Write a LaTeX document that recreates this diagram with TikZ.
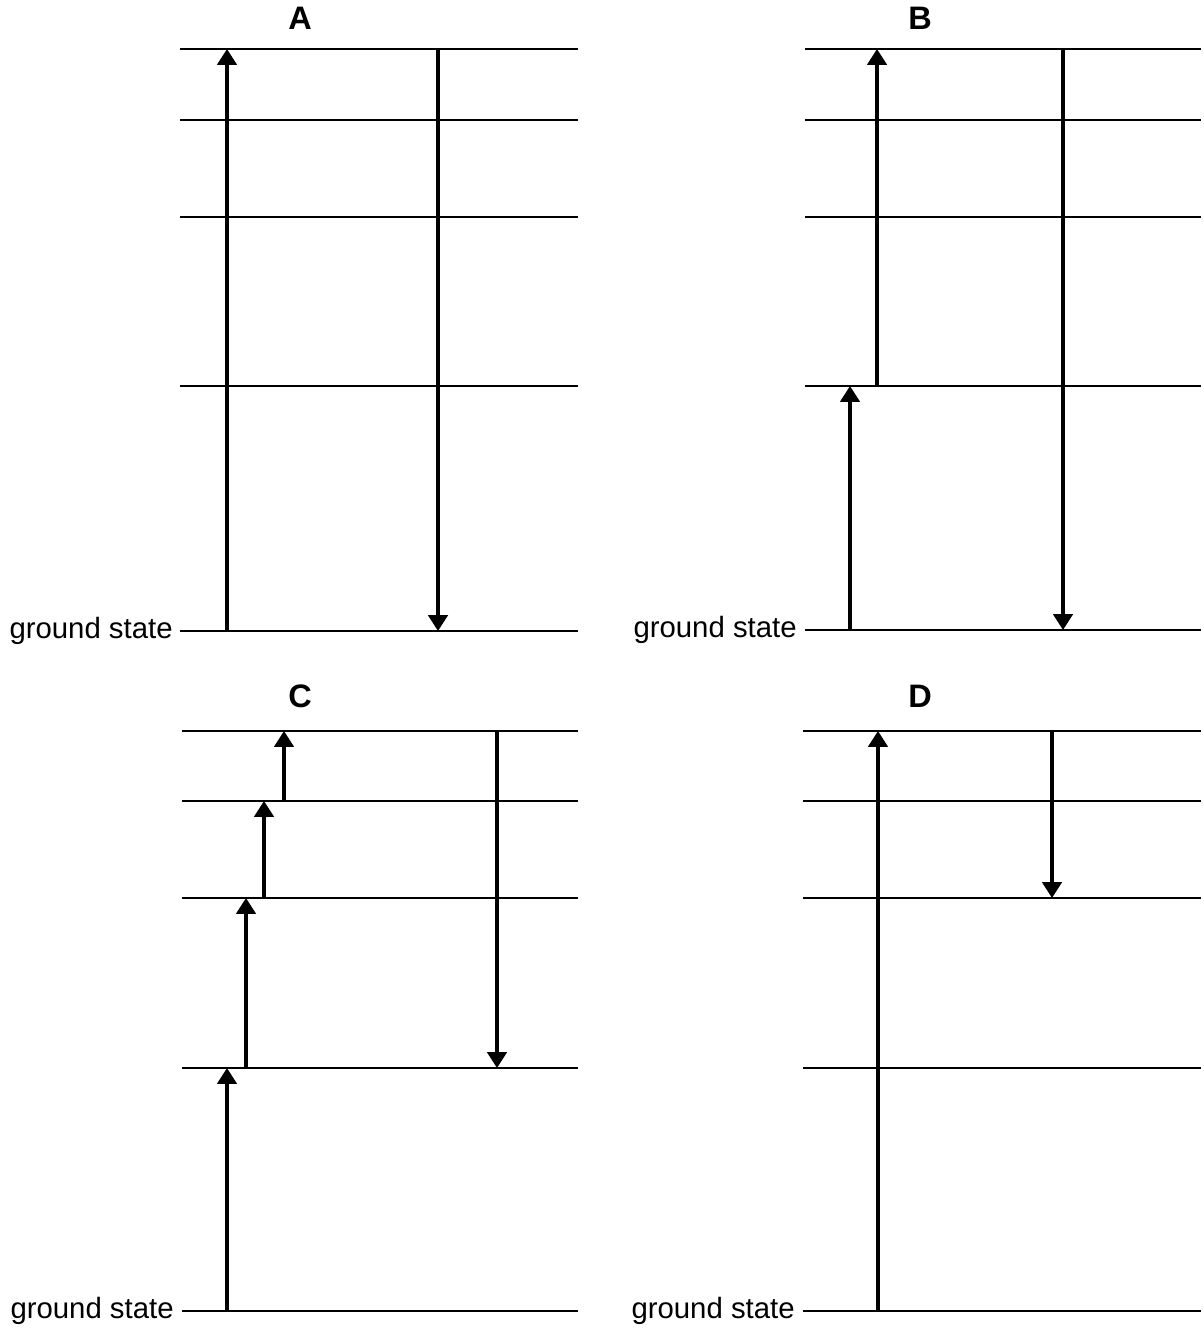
\documentclass[tikz,border=0pt]{standalone}
\usepackage{fontspec}
\setmainfont{Liberation Sans}
\usetikzlibrary{arrows.meta}
\begin{document}
\begin{tikzpicture}[x=0.02cm,y=-0.02cm,
  level/.style={line width=1.1pt},
  trans/.style={line width=1.8pt,-{Triangle[width=11pt,length=9pt]}},
  gs/.style={anchor=base east,inner sep=0pt,font=\fontsize{16.7}{18}\selectfont},
  plabel/.style={font=\fontsize{18.5}{20}\selectfont\bfseries}]
\useasboundingbox (0,0) rectangle (1203,1328);
% ---------- Panel A ----------
\node[plabel] (labA) at (300,18) {A};
\foreach \n/\y in {1/49,2/120,3/217,4/386,5/631}{
  \coordinate (AL\n) at (180,\y); \coordinate (AR\n) at (578,\y);
  \draw[level] (AL\n) -- (AR\n);}
\node[gs] (gsA) at (173,638) {ground state};
\coordinate (Aup0) at (227,631); \coordinate (Aup1) at (227,49);
\coordinate (Adn0) at (438,49); \coordinate (Adn1) at (438,631);
\draw[trans] (Aup0) -- (Aup1);
\draw[trans] (Adn0) -- (Adn1);
% ---------- Panel B ----------
\node[plabel] (labB) at (920,18) {B};
\foreach \n/\y in {1/49,2/120,3/217,4/386,5/630}{
  \coordinate (BL\n) at (805,\y); \coordinate (BR\n) at (1201,\y);
  \draw[level] (BL\n) -- (BR\n);}
\node[gs] (gsB) at (797,637) {ground state};
\coordinate (Bu0) at (850,630); \coordinate (Bu1) at (850,386);
\coordinate (Bv0) at (877,386); \coordinate (Bv1) at (877,49);
\coordinate (Bd0) at (1063,49); \coordinate (Bd1) at (1063,630);
\draw[trans] (Bu0) -- (Bu1);
\draw[trans] (Bv0) -- (Bv1);
\draw[trans] (Bd0) -- (Bd1);
% ---------- Panel C ----------
\node[plabel] (labC) at (300,696) {C};
\foreach \n/\y in {1/731,2/801,3/898,4/1068,5/1311}{
  \coordinate (CL\n) at (182,\y); \coordinate (CR\n) at (578,\y);
  \draw[level] (CL\n) -- (CR\n);}
\node[gs] (gsC) at (174,1318) {ground state};
\coordinate (Ca0) at (227,1311); \coordinate (Ca1) at (227,1068);
\coordinate (Cb0) at (246,1068); \coordinate (Cb1) at (246,898);
\coordinate (Cc0) at (264,898); \coordinate (Cc1) at (264,801);
\coordinate (Cd0) at (284,801); \coordinate (Cd1) at (284,731);
\coordinate (Ce0) at (497,731); \coordinate (Ce1) at (497,1068);
\draw[trans] (Ca0) -- (Ca1);
\draw[trans] (Cb0) -- (Cb1);
\draw[trans] (Cc0) -- (Cc1);
\draw[trans] (Cd0) -- (Cd1);
\draw[trans] (Ce0) -- (Ce1);
% ---------- Panel D ----------
\node[plabel] (labD) at (920,696) {D};
\foreach \n/\y in {1/731,2/801,3/898,4/1068,5/1311}{
  \coordinate (DL\n) at (803,\y); \coordinate (DR\n) at (1201,\y);
  \draw[level] (DL\n) -- (DR\n);}
\node[gs] (gsD) at (795,1318) {ground state};
\coordinate (Da0) at (878,1311); \coordinate (Da1) at (878,731);
\coordinate (Db0) at (1052,731); \coordinate (Db1) at (1052,898);
\draw[trans] (Da0) -- (Da1);
\draw[trans] (Db0) -- (Db1);
\end{tikzpicture}
\end{document}
